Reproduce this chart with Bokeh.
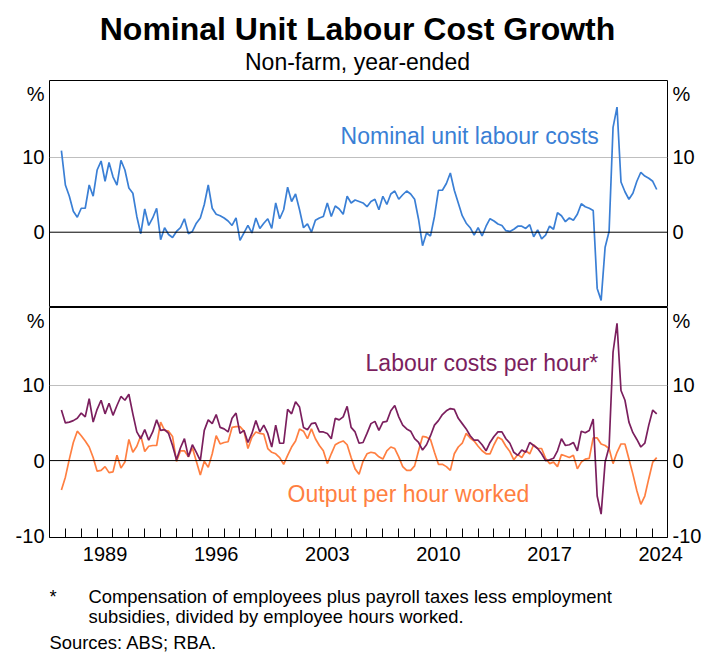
import pandas as pd
from bokeh.plotting import figure
from bokeh.models import (Range1d, LinearAxis, FixedTicker, Grid, Span, Label,
                          CustomJSTickFormatter, PrintfTickFormatter)
from bokeh.layouts import column
from bokeh.embed import file_html
from bokeh.resources import INLINE

# ---------------- data (quarterly, year-ended growth, %) ----------------
quarters = pd.period_range("1986Q3", "2024Q1", freq="Q")
x_years = [q.year + q.quarter * 0.25 for q in quarters]

nulc = [10.9, 6.3, 4.8, 2.8, 2.0, 3.2, 3.2, 6.3, 4.8, 8.3, 9.5, 6.8, 9.3, 7.4, 6.3, 9.6, 8.3, 5.9, 5.2, 2.1,
        -0.2, 3.1, 0.9, 1.9, 3.2, -1.0, 0.6, -0.3, -0.7, 0.1, 0.6, 1.8, -0.2, 0.1, 1.2, 1.9, 3.7, 6.3,
        3.2, 2.4, 2.2, 1.9, 1.5, 0.9, 1.9, -1.1, -0.1, 0.9, -0.1, 1.9, 0.5, 1.2, 1.8, 0.5, 3.9, 1.8, 3.0, 6.0,
        4.1, 5.1, 3.0, 0.6, 1.1, 0.0, 1.6, 1.9, 2.1, 3.9, 2.1, 3.5, 3.1, 2.4, 4.8, 3.9, 4.3, 4.1,
        3.9, 3.4, 4.1, 4.4, 3.0, 4.8, 3.7, 5.1, 5.5, 4.4, 5.0, 5.5, 5.1, 4.4, 1.7, -1.8, -0.1, -0.5, 2.1, 5.6,
        5.6, 6.5, 7.9, 5.6, 3.9, 2.2, 1.2, 0.6, -0.4, 0.6, -0.5, 0.8, 1.8, 1.5, 1.1, 0.9, 0.2, 0.1, 0.4,
        0.8, 0.8, 0.5, 1.0, -0.6, 0.3, -0.9, -0.4, 0.8, 0.4, 2.6, 2.2, 1.4, 1.9, 1.6, 2.4, 3.8, 3.4, 3.2, 2.9,
        -7.5, -9.1, -2.0, 0.1, 14.0, 16.7, 6.7, 5.4, 4.4, 5.2, 6.8, 8.0, 7.5, 7.2, 6.8, 5.7]

lcph = [6.7, 5.0, 5.1, 5.3, 5.6, 6.3, 5.8, 8.2, 5.1, 6.8, 8.0, 6.2, 7.6, 6.0, 7.3, 8.5, 8.0, 8.8, 6.2, 3.8,
        2.9, 4.1, 2.7, 3.8, 5.4, 4.0, 4.1, 3.6, 2.0, 0.1, 1.7, 2.9, 0.5, 2.1, 1.1, 0.0, 4.0, 5.4,
        4.9, 6.1, 4.4, 4.2, 3.8, 5.6, 6.3, 3.6, 4.0, 2.4, 3.6, 5.3, 3.8, 4.7, 3.6, 1.8, 4.7, 2.3, 2.3, 6.8,
        6.2, 7.8, 7.1, 4.4, 4.1, 4.9, 5.0, 3.8, 3.8, 3.6, 2.9, 5.6, 5.4, 5.8, 7.2, 4.4, 3.8, 2.3,
        2.4, 3.6, 4.9, 5.2, 4.0, 5.1, 5.2, 6.6, 7.3, 5.8, 4.7, 4.2, 3.9, 2.9, 2.4, 1.4, 2.1, 3.3, 4.7, 5.3,
        6.1, 6.6, 6.9, 6.8, 5.6, 4.9, 4.2, 3.3, 2.7, 2.7, 2.1, 1.3, 2.4, 3.2, 3.8, 3.8, 2.9, 2.3, 1.1,
        0.7, 1.4, 1.1, 2.4, 2.0, 1.6, 0.9, 0.0, 0.1, 0.3, 1.3, 2.9, 2.0, 2.1, 2.4, 1.3, 3.9, 3.7, 4.0, 5.5,
        -4.7, -7.1, -0.2, 1.8, 14.4, 18.2, 9.3, 8.0, 5.1, 3.7, 2.8, 1.8, 2.3, 4.7, 6.7, 6.2]

oph = [-3.9, -2.2, 0.2, 2.4, 3.9, 3.3, 2.6, 1.8, 0.4, -1.4, -1.3, -0.8, -1.6, -1.5, 0.7, -1.0, -0.2, 2.8, 1.1, 1.9,
       3.3, 1.2, 1.9, 2.0, 2.0, 5.1, 4.0, 3.9, 3.2, -0.1, 1.3, 1.3, 0.5, 1.7, -0.1, -1.9, -0.1, -0.9,
       0.9, 3.3, 2.2, 2.4, 2.5, 4.4, 4.5, 4.5, 3.9, 1.6, 3.1, 3.8, 3.6, 3.5, 1.6, 1.1, 0.9, 0.4, -0.5, 0.7,
       1.8, 2.6, 4.2, 3.9, 2.9, 4.2, 2.9, 2.0, 1.3, -0.4, 0.9, 2.1, 2.4, 2.6, 2.1, 0.4, -1.1, -1.8,
       -0.1, 0.9, 1.1, 1.0, 0.5, 0.2, 1.3, 1.8, 1.6, 0.5, -0.8, -1.3, -1.3, -0.7, 1.3, 3.2, 3.1, 2.8, 1.1, -0.5,
       -0.5, -0.8, -1.3, 0.9, 1.8, 2.3, 3.6, 3.0, 2.6, 1.9, 1.3, 0.9, 0.9, 2.1, 3.1, 2.8, 1.9, 1.2, 0.1,
       0.8, 0.4, 1.3, 0.9, 2.1, 1.6, 1.6, 0.3, -0.4, -0.2, -0.8, 0.8, 0.6, 0.4, 0.7, -1.1, -0.2, 0.2, 0.3, 3.0,
       3.0, 2.2, 2.0, 1.6, -0.4, 1.1, 2.2, 2.2, 0.2, -1.8, -4.0, -5.8, -4.7, -2.4, -0.2, 0.4]

year_label_ticks = [1989.5, 1996.5, 2003.5, 2010.5, 2017.5, 2024.5]
year_minor_ticks = list(range(1987, 2025))
top_y_ticks = [0, 10, 18.5]
bottom_y_ticks = [-10, 0, 10, 18.5]

title_text = "Nominal Unit Labour Cost Growth"
subtitle_text = "Non-farm, year-ended"
label_nulc = "Nominal unit labour costs"
label_lcph = "Labour costs per hour*"
label_oph = "Output per hour worked"
foot_star = "*"
foot_line1 = "Compensation of employees plus payroll taxes less employment"
foot_line2 = "subsidies, divided by employee hours worked."
foot_sources = "Sources: ABS; RBA."

# ---------------- styles ----------------
FONT = "Liberation Sans"
BLUE = "#3A7FD5"
PURPLE = "#7B1F5E"
ORANGE = "#FF7F41"
GRID = "#BFBFBF"
W = 705
FRAME_L, FRAME_R = 49, 667   # frame edges shared by all stacked figures

xr = Range1d(1986.0, 2024.93)
pct_formatter = CustomJSTickFormatter(code="return tick > 15 ? '%' : tick.toFixed(0);")


def text_figure(height):
    # frame-only canvas in pixel coordinates (y downward) for titles and notes
    p = figure(width=W, height=height, x_range=Range1d(FRAME_L, FRAME_R), y_range=Range1d(height, 0),
               x_axis_type=None, y_axis_type=None, output_backend="svg", toolbar_location=None,
               min_border_left=FRAME_L, min_border_right=W - FRAME_R, min_border_top=0, min_border_bottom=0)
    p.outline_line_color = None
    return p


def make_panel(height, yr, ticks, bottom):
    p = figure(width=W, height=height, x_range=xr, y_range=yr,
               x_axis_type=None, y_axis_type=None,
               output_backend="svg", toolbar_location=None,
               min_border_left=FRAME_L, min_border_right=W - FRAME_R,
               min_border_top=0, min_border_bottom=bottom)
    p.outline_line_color = "black"
    p.outline_line_width = 1
    p.add_layout(Grid(dimension=1, ticker=FixedTicker(ticks=[10]),
                      grid_line_color=GRID, grid_line_width=1))
    p.add_layout(Span(location=0, dimension="width", line_color="black", line_width=1))
    for side in ("left", "right"):
        ax = LinearAxis(ticker=FixedTicker(ticks=ticks), formatter=pct_formatter)
        ax.axis_line_color = None
        ax.major_tick_line_color = None
        ax.minor_tick_line_color = None
        ax.major_tick_in = 0
        ax.major_tick_out = 0
        ax.major_label_standoff = 5
        ax.major_label_text_font = FONT
        ax.major_label_text_font_size = "20px"
        ax.major_label_text_color = "black"
        p.add_layout(ax, side)
    return p


# title block
p0 = text_figure(80)
p0.add_layout(Label(x=357, y=28, text=title_text, text_align="center", text_baseline="middle",
                    text_font=FONT, text_font_size="32px", text_font_style="bold", text_color="black"))
p0.add_layout(Label(x=357, y=61, text=subtitle_text, text_align="center", text_baseline="middle",
                    text_font=FONT, text_font_size="23px", text_color="black"))

# top panel
p1 = make_panel(227, Range1d(-10.05, 20.25), top_y_ticks, 0)
p1.line(x_years, nulc, line_color=BLUE, line_width=1.7)
p1.add_layout(Label(x=2012.47, y=12.9, text=label_nulc, text_align="center", text_baseline="middle",
                    text_font=FONT, text_font_size="23px", text_color=BLUE))

# bottom panel
p2 = make_panel(263, Range1d(-10.2, 20.3), bottom_y_ticks, 33)
p2.line(x_years, oph, line_color=ORANGE, line_width=1.7)
p2.line(x_years, lcph, line_color=PURPLE, line_width=1.7)
p2.add_layout(Label(x=2005.91, y=12.9, text=label_lcph, text_align="left", text_baseline="middle",
                    text_font=FONT, text_font_size="23px", text_color=PURPLE))
p2.add_layout(Label(x=2001.0, y=-4.4, text=label_oph, text_align="left", text_baseline="middle",
                    text_font=FONT, text_font_size="23px", text_color=ORANGE))

xax = LinearAxis(ticker=FixedTicker(ticks=year_label_ticks, minor_ticks=year_minor_ticks),
                 formatter=PrintfTickFormatter(format="%d"))
xax.axis_line_color = "black"
xax.major_tick_line_color = None
xax.major_tick_in = 0
xax.major_tick_out = 0
xax.minor_tick_line_color = "black"
xax.minor_tick_in = 9
xax.minor_tick_out = 0
xax.major_label_standoff = 9
xax.major_label_text_font = FONT
xax.major_label_text_font_size = "20px"
xax.major_label_text_color = "black"
p2.add_layout(xax, "below")

# footnotes
p3 = text_figure(85)
for txt, xv, yv in [(foot_star, 49, 26), (foot_line1, 88, 26),
                    (foot_line2, 88, 46), (foot_sources, 49, 72)]:
    p3.add_layout(Label(x=xv, y=yv, text=txt, text_align="left", text_baseline="middle",
                        text_font=FONT, text_font_size="18.4px", text_color="black"))

layout = column(p0, p1, p2, p3, spacing=0)
open("out.html", "w").write(file_html(layout, INLINE))
